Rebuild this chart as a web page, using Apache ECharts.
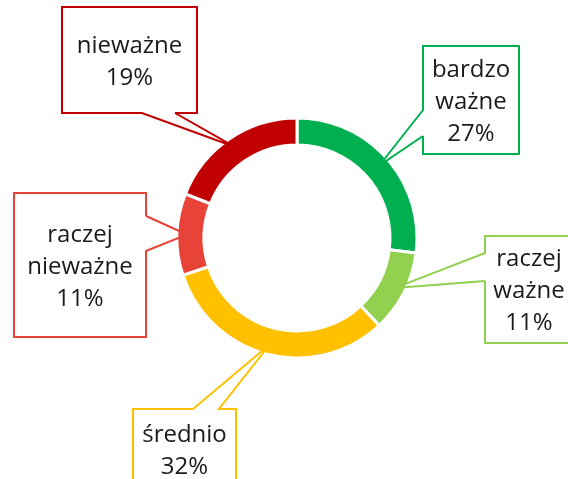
<!DOCTYPE html>
<html>
<head>
<meta charset="utf-8">
<script src="https://cdn.jsdelivr.net/npm/echarts@6/dist/echarts.min.js"></script>
<style>
    html, body { margin: 0; padding: 0; background: #fff; }
    #main { width: 568px; height: 479px; }
</style>
</head>
<body>
<div id="main"></div>
<script>
var categories = ['bardzo ważne', 'raczej ważne', 'średnio', 'raczej nieważne', 'nieważne'];
var shares = [27, 11, 32, 11, 19];
var colors = ['#00B050', '#92D050', '#FFC000', '#E84339', '#C00000'];

// callout boxes: left, top, width, height
var boxes = [
    [423, 46, 96, 108],
    [485, 236, 88, 107],
    [133, 409, 103, 80],
    [14, 193, 132, 144],
    [62, 7, 135, 106]
];
// pointer base: box edge (0 top, 1 right, 2 bottom, 3 left) and the two points along it
var wedges = [
    [3, 110, 136],
    [3, 253, 281],
    [0, 193, 219],
    [1, 216, 251],
    [2, 142, 175]
];

var cx = 297, cy = 238;
var rIn = 93, rOut = 120, rTip = 110;

function tipPoint(i) {
    var total = 0, before = 0;
    for (var k = 0; k < shares.length; k++) {
        total += shares[k];
        if (k < i) before += shares[k];
    }
    var a = (before + shares[i] / 2) / total * Math.PI * 2;
    return [cx + rTip * Math.sin(a), cy - rTip * Math.cos(a)];
}

// outline of the callout: pointer first, then round the box corners
function calloutPath(i) {
    var b = boxes[i], w = wedges[i], e = w[0];
    var x0 = b[0], y0 = b[1], x1 = b[0] + b[2], y1 = b[1] + b[3];
    var corners = [[x0, y0], [x1, y0], [x1, y1], [x0, y1]];
    var lo = Math.min(w[1], w[2]), hi = Math.max(w[1], w[2]);
    var p1, p2;
    if (e == 0) { p1 = [lo, y0]; p2 = [hi, y0]; }
    else if (e == 1) { p1 = [x1, lo]; p2 = [x1, hi]; }
    else if (e == 2) { p1 = [hi, y1]; p2 = [lo, y1]; }
    else { p1 = [x0, hi]; p2 = [x0, lo]; }
    var pts = [p1, tipPoint(i), p2];
    for (var k = 1; k <= 4; k++) {
        pts.push(corners[(e + k) % 4]);
    }
    pts.push(p1);
    return pts;
}

var data = categories.map(function (name, i) {
    return {name: name, value: shares[i], itemStyle: {color: colors[i]}};
});

var option = {
    animation: false,
    series: [
        {
            // the ring itself
            type: 'pie',
            z: 2,
            silent: true,
            center: [cx, cy],
            radius: [rIn, rOut],
            startAngle: 90,
            clockwise: true,
            itemStyle: {
                borderColor: '#fff',
                borderWidth: 3
            },
            label: {show: false},
            labelLine: {show: false},
            data: data
        },
        {
            // invisible copy that carries the callouts above the ring
            type: 'pie',
            z: 3,
            silent: true,
            center: [cx, cy],
            radius: [rIn, rOut],
            startAngle: 90,
            clockwise: true,
            avoidLabelOverlap: false,
            itemStyle: {
                opacity: 0,
                borderWidth: 0
            },
            label: {
                show: true,
                position: 'outside',
                formatter: function (p) {
                    return p.name.replace(' ', '\n') + '\n' + p.value + '%';
                },
                color: '#1a1a1a',
                opacity: 1,
                fontFamily: 'Open Sans',
                fontSize: 24,
                lineHeight: 32,
                padding: 0,
                overflow: 'none'
            },
            labelLine: {
                show: true,
                lineStyle: {width: 2, join: 'miter', opacity: 1}
            },
            labelLayout: function (params) {
                var i = params.dataIndex;
                var b = boxes[i];
                return {
                    x: b[0] + b[2] / 2,
                    y: b[1] + b[3] / 2 + 2,
                    align: 'center',
                    verticalAlign: 'middle',
                    width: b[2],
                    height: b[3],
                    labelLinePoints: calloutPath(i)
                };
            },
            data: data
        }
    ]
};

var myChart = echarts.init(document.getElementById('main'));
myChart.setOption(option);
</script>
</body>
</html>
